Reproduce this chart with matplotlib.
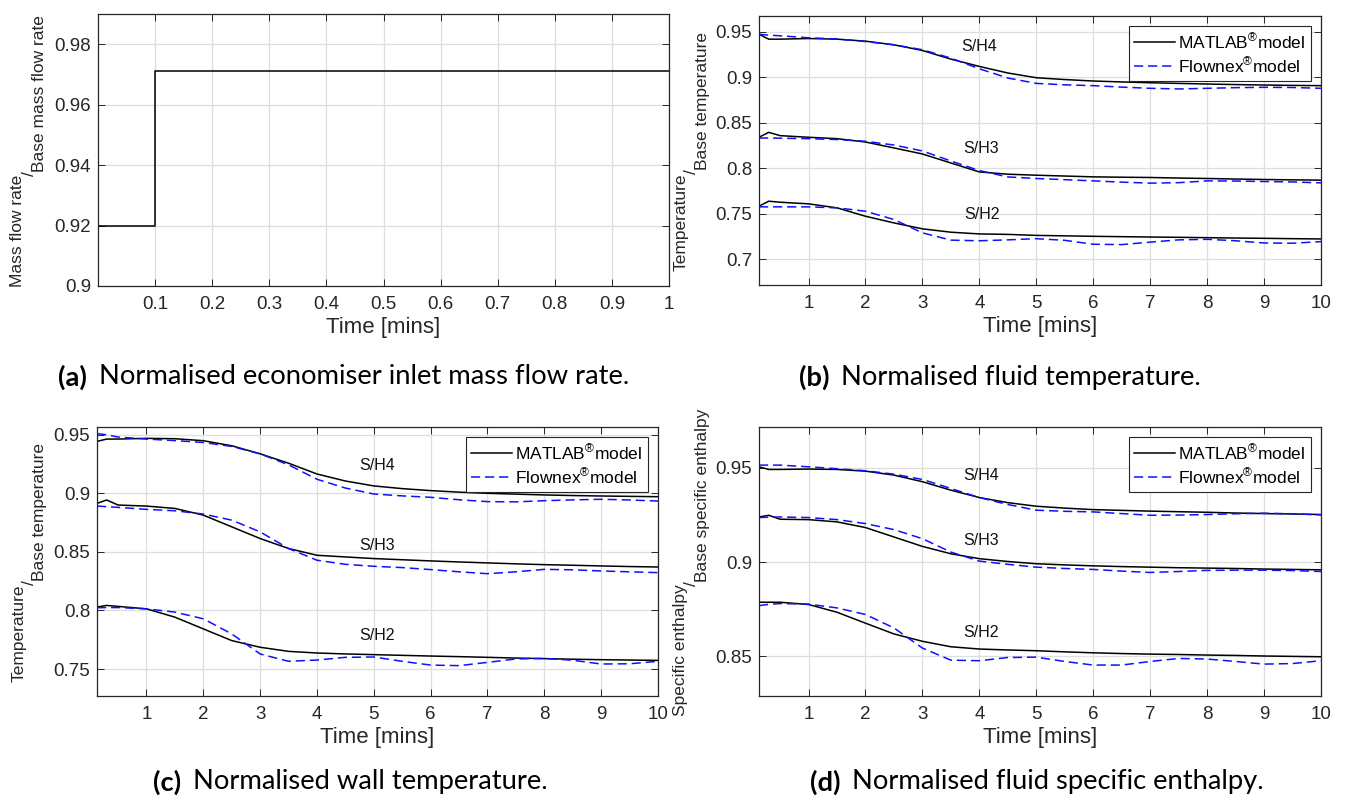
import matplotlib
matplotlib.use('Agg')
import matplotlib.pyplot as plt
from matplotlib.ticker import FuncFormatter

plt.rcParams['font.family'] = ['Liberation Sans', 'DejaVu Sans']
plt.rcParams['mathtext.fontset'] = 'custom'
plt.rcParams['mathtext.rm'] = 'Liberation Sans'
plt.rcParams['mathtext.it'] = 'Liberation Sans:italic'
plt.rcParams['mathtext.bf'] = 'Liberation Sans:bold'

INK = '#262626'
BLUE = '#1010ff'

# ---- data ----
# (a) mass flow step
mf_time = [0.0, 0.1, 0.1, 1.0]
mf_value = [0.92, 0.92, 0.9712, 0.9712]

# time base for (b), (c), (d) [mins]
t = [0.13, 0.3, 0.5, 1, 1.5, 2, 2.5, 3, 3.5, 4, 4.5, 5, 5.5, 6, 6.5, 7, 7.5, 8, 8.5, 9, 9.5, 10]

# (b) fluid temperature
b_mat_h4 = [0.947, 0.9416, 0.9416, 0.9423, 0.9416, 0.9394, 0.9354, 0.9292, 0.9197, 0.9117, 0.9045,
            0.8993, 0.8973, 0.8957, 0.8947, 0.8938, 0.8931, 0.8924, 0.8918, 0.8913, 0.8909, 0.8906]
b_flx_h4 = [0.947, 0.946, 0.9453, 0.9431, 0.9418, 0.939, 0.9354, 0.930, 0.9208, 0.9091, 0.899,
            0.8931, 0.8915, 0.8906, 0.889, 0.8877, 0.887, 0.8877, 0.8884, 0.8888, 0.8886, 0.8877]
b_mat_h3 = [0.834, 0.8394, 0.8358, 0.834, 0.8325, 0.8288, 0.8223, 0.8157, 0.8058, 0.796, 0.7935,
            0.7924, 0.7915, 0.7906, 0.7902, 0.7899, 0.7893, 0.7888, 0.7882, 0.7877, 0.7873, 0.787]
b_flx_h3 = [0.8332, 0.8332, 0.833, 0.8325, 0.8315, 0.8296, 0.8255, 0.819, 0.808, 0.7975, 0.7905,
            0.7888, 0.7875, 0.7862, 0.7848, 0.7837, 0.7842, 0.7862, 0.786, 0.7855, 0.785, 0.784]
b_mat_h2 = [0.7584, 0.7639, 0.7628, 0.761, 0.7566, 0.7474, 0.7401, 0.7336, 0.7299, 0.728, 0.7275,
            0.7264, 0.7259, 0.7254, 0.725, 0.7246, 0.7243, 0.7239, 0.7235, 0.7232, 0.7228, 0.7225]
b_flx_h2 = [0.7577, 0.7577, 0.7577, 0.7577, 0.7566, 0.7529, 0.7438, 0.7292, 0.7212, 0.7205, 0.7215,
            0.7228, 0.721, 0.7167, 0.7163, 0.719, 0.7215, 0.7221, 0.7205, 0.7181, 0.7178, 0.7196]

# (c) wall temperature
c_mat_h4 = [0.9443, 0.9463, 0.9463, 0.9469, 0.9466, 0.9449, 0.9406, 0.9337, 0.9257, 0.9165, 0.9105,
            0.9063, 0.904, 0.9023, 0.901, 0.9, 0.8993, 0.8986, 0.8981, 0.8977, 0.8974, 0.8971]
c_flx_h4 = [0.9509, 0.950, 0.948, 0.9463, 0.945, 0.9434, 0.940, 0.9337, 0.9243, 0.912, 0.9045,
            0.8994, 0.8978, 0.8966, 0.8945, 0.8929, 0.8927, 0.8937, 0.8944, 0.8949, 0.8943, 0.8934]
c_mat_h3 = [0.8914, 0.8943, 0.89, 0.8891, 0.8871, 0.8814, 0.8714, 0.8614, 0.8529, 0.8471, 0.8457,
            0.8443, 0.8433, 0.8423, 0.8414, 0.8406, 0.8398, 0.8391, 0.8386, 0.838, 0.8375, 0.8371]
c_flx_h3 = [0.8891, 0.8886, 0.888, 0.8863, 0.8851, 0.8823, 0.8771, 0.8671, 0.8529, 0.8429, 0.8394,
            0.8377, 0.8366, 0.8349, 0.833, 0.8314, 0.833, 0.8351, 0.8347, 0.8337, 0.833, 0.8323]
c_mat_h2 = [0.8029, 0.8043, 0.8035, 0.8014, 0.7943, 0.7843, 0.7743, 0.7686, 0.7651, 0.7637, 0.7629,
            0.7623, 0.7617, 0.7611, 0.7606, 0.76, 0.7594, 0.7589, 0.7584, 0.758, 0.7577, 0.7574]
c_flx_h2 = [0.8023, 0.8025, 0.8025, 0.8014, 0.7986, 0.7929, 0.78, 0.7629, 0.7566, 0.7577, 0.76,
            0.7603, 0.7566, 0.7534, 0.7529, 0.7557, 0.7586, 0.7591, 0.7575, 0.7543, 0.7545, 0.7566]

# (d) fluid specific enthalpy
d_mat_h4 = [0.9505, 0.9491, 0.9491, 0.9493, 0.9491, 0.9482, 0.9461, 0.9426, 0.9381, 0.9342, 0.9315,
            0.9296, 0.9286, 0.9278, 0.9274, 0.927, 0.9267, 0.9264, 0.926, 0.9257, 0.9255, 0.9252]
d_flx_h4 = [0.9514, 0.9514, 0.9514, 0.9505, 0.9495, 0.9484, 0.9466, 0.9438, 0.939, 0.9342, 0.9305,
            0.9275, 0.9269, 0.9266, 0.9257, 0.9248, 0.9249, 0.9252, 0.9256, 0.9259, 0.9256, 0.925]
d_mat_h3 = [0.9239, 0.9248, 0.9227, 0.9225, 0.9213, 0.9183, 0.9133, 0.9083, 0.9044, 0.9018, 0.9003,
            0.8991, 0.8985, 0.898, 0.8976, 0.8973, 0.897, 0.8968, 0.8966, 0.8963, 0.8961, 0.8959]
d_flx_h3 = [0.9236, 0.9238, 0.9239, 0.9236, 0.9225, 0.9204, 0.9172, 0.9124, 0.9053, 0.9005, 0.8988,
            0.8973, 0.8966, 0.8961, 0.8952, 0.8945, 0.895, 0.8956, 0.8957, 0.8957, 0.8955, 0.895]
d_mat_h2 = [0.8787, 0.8787, 0.8787, 0.8775, 0.8734, 0.8676, 0.8619, 0.858, 0.8551, 0.8539, 0.8534,
            0.853, 0.8524, 0.8519, 0.8515, 0.8512, 0.851, 0.8507, 0.8505, 0.8502, 0.85, 0.8498]
d_flx_h2 = [0.8769, 0.8776, 0.878, 0.8777, 0.8757, 0.8722, 0.8651, 0.8544, 0.848, 0.8477, 0.8494,
            0.8496, 0.8473, 0.8454, 0.8454, 0.8473, 0.8489, 0.8486, 0.8473, 0.8459, 0.8462, 0.8477]

sh_names = ['S/H4', 'S/H3', 'S/H2']
b_lab_t, b_lab_y = [4.0, 4.03, 4.05], [0.934, 0.8214, 0.749]
c_lab_t, c_lab_y = [5.05, 5.05, 5.05], [0.9237, 0.8556, 0.779]
d_lab_t, d_lab_y = [4.03, 4.03, 4.03], [0.9461, 0.9112, 0.8628]

legend_labels = [r'MATLAB$^{\circledR}$model', r'Flownex$^{\circledR}$model']

# ---- figure ----
fig = plt.figure(figsize=(13.45, 8.07), dpi=100)
W, H = 1345, 807


def px_axes(l, r, top, bot):
    return fig.add_axes([l / W, 1 - bot / H, (r - l) / W, (bot - top) / H])


def style(ax, xlim, ylim, xticks, yticks):
    ax.set_xlim(*xlim)
    ax.set_ylim(*ylim)
    ax.set_xticks(xticks)
    ax.set_yticks(yticks)
    fmt = FuncFormatter(lambda v, p: '%g' % round(v, 4))
    ax.xaxis.set_major_formatter(fmt)
    ax.yaxis.set_major_formatter(fmt)
    ax.grid(True, color='#dedede', lw=0.9)
    ax.set_axisbelow(True)
    ax.tick_params(direction='in', length=5, width=0.7, top=True, right=True,
                   colors=INK, labelsize=13.5)
    ax.tick_params(axis='x', pad=7)
    ax.tick_params(axis='y', pad=5)
    for s in ax.spines.values():
        s.set_color(INK)
        s.set_linewidth(0.9)
    ax.set_xlabel('Time [mins]', fontsize=16, color=INK, labelpad=3)


def curves(ax, series, lab_t, lab_y):
    for i, (m, f) in enumerate(series):
        ax.plot(t, m, color='k', lw=1.1, label=legend_labels[0] if i == 0 else None)
        ax.plot(t, f, color=BLUE, lw=1.1, dashes=(6, 3.2),
                label=legend_labels[1] if i == 0 else None)
    for name, x, y in zip(sh_names, lab_t, lab_y):
        ax.text(x, y, name, fontsize=11.5, color='#111111', ha='center', va='center')


def legend(ax):
    lg = ax.legend(loc='upper right', fontsize=12.5, handlelength=2.4, handletextpad=0.15,
                   borderpad=0.3, labelspacing=0.25, borderaxespad=0.6, fancybox=False,
                   framealpha=1, edgecolor=INK)
    lg.get_frame().set_linewidth(0.8)


ax_a = px_axes(98, 669, 14, 286)
ax_a.plot(mf_time, mf_value, color='k', lw=1.1)
style(ax_a, (0, 1), (0.9, 0.99), [0.1 * k for k in range(1, 11)], [0.9, 0.92, 0.94, 0.96, 0.98])

ax_b = px_axes(759, 1321, 16, 285)
curves(ax_b, [(b_mat_h4, b_flx_h4), (b_mat_h3, b_flx_h3), (b_mat_h2, b_flx_h2)], b_lab_t, b_lab_y)
style(ax_b, (t[0], 10), (0.672, 0.967), list(range(1, 11)), [0.7, 0.75, 0.8, 0.85, 0.9, 0.95])
legend(ax_b)

ax_c = px_axes(97, 658, 427, 696)
curves(ax_c, [(c_mat_h4, c_flx_h4), (c_mat_h3, c_flx_h3), (c_mat_h2, c_flx_h2)], c_lab_t, c_lab_y)
style(ax_c, (t[0], 10), (0.727, 0.9566), list(range(1, 11)), [0.75, 0.8, 0.85, 0.9, 0.95])
legend(ax_c)

ax_d = px_axes(759, 1321, 427, 696)
curves(ax_d, [(d_mat_h4, d_flx_h4), (d_mat_h3, d_flx_h3), (d_mat_h2, d_flx_h2)], d_lab_t, d_lab_y)
style(ax_d, (t[0], 10), (0.829, 0.9716), list(range(1, 11)), [0.85, 0.9, 0.95])
legend(ax_d)

renderer = fig.canvas.get_renderer()


def frac_label(ax, num, den, x_num, x_den, fs=12.5):
    kw = dict(xycoords='axes fraction', textcoords='offset pixels', rotation=90,
              ha='center', va='bottom', fontsize=fs, color=INK)
    x_sl = (x_num + x_den) / 2
    a = ax.annotate(num, (0, 0), xytext=(x_num, 0), **kw)
    s = ax.annotate('/', (0, 0), xytext=(x_sl, 0), **kw)
    b = ax.annotate(den, (0, 0), xytext=(x_den, 0), **kw)
    la = a.get_window_extent(renderer).height
    ls = s.get_window_extent(renderer).height
    lb = b.get_window_extent(renderer).height
    h = ax.get_window_extent(renderer).height
    y0 = (h - la - ls - lb) / 2
    a.xyann = (x_num, y0)
    s.xyann = (x_sl, y0 + la - 1)
    b.xyann = (x_den, y0 + la + ls - 2)


frac_label(ax_a, 'Mass flow rate', 'Base mass flow rate', -80, -58)
frac_label(ax_b, 'Temperature', 'Base temperature', -78, -57)
frac_label(ax_c, 'Temperature', 'Base temperature', -78, -57)
frac_label(ax_d, 'Specific enthalpy', 'Base specific enthalpy', -78, -57)


def caption(xc, yc, tag, text, fs=19.7):
    kw = dict(fontsize=fs, family=['Lato', 'DejaVu Sans'], va='center', color='k')
    t1 = fig.text(0, 1 - yc / H, tag, fontweight='bold', **kw)
    t2 = fig.text(0, 1 - yc / H, text, **kw)
    w1 = t1.get_window_extent(renderer).width
    w2 = t2.get_window_extent(renderer).width
    gap = 12
    x0 = xc - (w1 + gap + w2) / 2
    t1.set_x(x0 / W)
    t2.set_x((x0 + w1 + gap) / W)


caption(344, 377, '(a)', 'Normalised economiser inlet mass flow rate.')
caption(1000, 377, '(b)', 'Normalised fluid temperature.')
caption(350, 782, '(c)', 'Normalised wall temperature.')
caption(1037, 782, '(d)', 'Normalised fluid specific enthalpy.')

fig.savefig('out.png', dpi=100)
